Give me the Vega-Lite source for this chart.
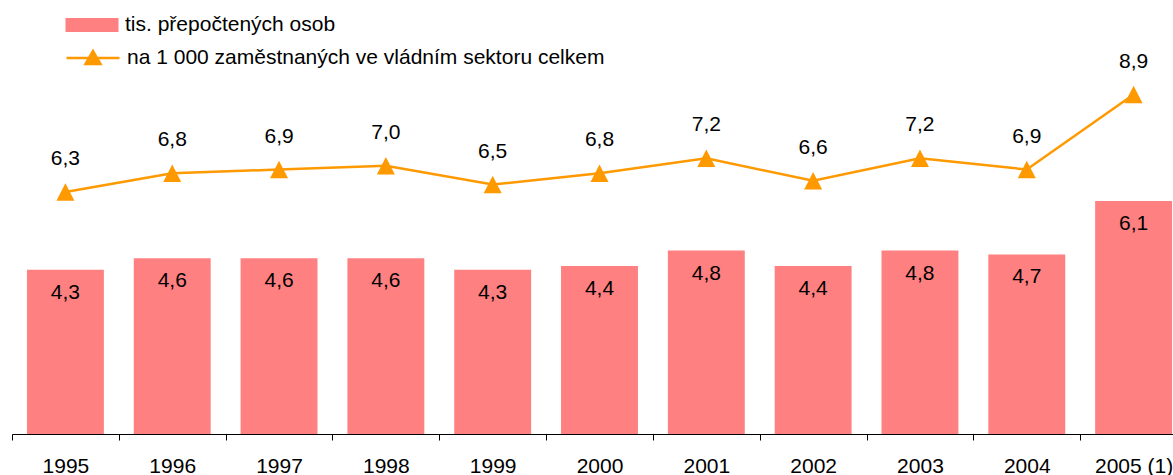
{
  "$schema": "https://vega.github.io/schema/vega-lite/v6.json",
  "autosize": "none",
  "width": 1161,
  "height": 434,
  "padding": {"left": 12, "top": 0, "right": 0, "bottom": 41},
  "background": "white",
  "config": {
    "view": {"stroke": null},
    "font": "Liberation Sans",
    "locale": {"number": {"decimal": ",", "thousands": " ", "grouping": [3], "currency": ["", " Kč"]}}
  },
  "data": {
    "values": [
      {"rok": "1995", "osob": 4.3, "podil": 6.3},
      {"rok": "1996", "osob": 4.6, "podil": 6.8},
      {"rok": "1997", "osob": 4.6, "podil": 6.9},
      {"rok": "1998", "osob": 4.6, "podil": 7.0},
      {"rok": "1999", "osob": 4.3, "podil": 6.5},
      {"rok": "2000", "osob": 4.4, "podil": 6.8},
      {"rok": "2001", "osob": 4.8, "podil": 7.2},
      {"rok": "2002", "osob": 4.4, "podil": 6.6},
      {"rok": "2003", "osob": 4.8, "podil": 7.2},
      {"rok": "2004", "osob": 4.7, "podil": 6.9},
      {"rok": "2005 (1)", "osob": 6.1, "podil": 8.9}
    ]
  },
  "encoding": {
    "x": {
      "field": "rok",
      "type": "ordinal",
      "sort": null,
      "scale": {"range": [0, 1175], "paddingInner": 0, "paddingOuter": 0},
      "axis": {
        "title": null,
        "tickBand": "extent",
        "domainColor": "#000000",
        "domainWidth": 1,
        "tickColor": "#000000",
        "tickWidth": 1,
        "tickSize": 6,
        "labelFontSize": 21,
        "labelColor": "#000000",
        "labelAngle": 0,
        "labelPadding": 15,
        "grid": false
      }
    }
  },
  "layer": [
    {
      "mark": {"type": "bar", "width": {"band": 0.72}},
      "encoding": {
        "y": {"field": "osob", "type": "quantitative", "scale": {"domain": [0, 11.36], "nice": false, "zero": true}, "axis": null},
        "fill": {
          "datum": "tis. přepočtených osob",
          "type": "nominal",
          "scale": {"range": ["#FF8080"]},
          "legend": {
            "orient": "none",
            "legendX": 69.5,
            "legendY": 14.5,
            "title": null,
            "padding": 0,
            "symbolType": "M-2.65,-0.7H2.65V0.7H-2.65Z",
            "symbolSize": 400,
            "symbolStrokeWidth": 0,
            "labelFontSize": 21,
            "labelColor": "#000000",
            "labelOffset": 22.5,
            "labelLimit": 800
          }
        }
      }
    },
    {
      "mark": {"type": "text", "baseline": "middle", "dy": 23, "fontSize": 21, "color": "#000000"},
      "encoding": {
        "y": {"field": "osob", "type": "quantitative", "scale": {"domain": [0, 11.36], "nice": false, "zero": true}, "axis": null},
        "text": {"field": "osob", "type": "quantitative", "format": ".1f"}
      }
    },
    {
      "mark": {"type": "line", "strokeWidth": 2.5},
      "encoding": {
        "y": {"field": "podil", "type": "quantitative", "scale": {"domain": [-0.152, 11.42], "nice": false, "zero": false}, "axis": null},
        "stroke": {
          "datum": "na 1 000 zaměstnaných ve vládním sektoru celkem",
          "type": "nominal",
          "scale": {"range": ["#FF9900"]},
          "legend": {
            "orient": "none",
            "legendX": 69.5,
            "legendY": 46.5,
            "title": null,
            "padding": 0,
            "symbolType": "M-2.65,0H2.65M0,-0.7L0.75,0.6H-0.75Z",
            "symbolSize": 400,
            "symbolFillColor": "#FF9900",
            "symbolStrokeWidth": 2.5,
            "labelFontSize": 21,
            "labelColor": "#000000",
            "labelOffset": 22.5,
            "labelLimit": 800
          }
        }
      }
    },
    {
      "mark": {"type": "point", "shape": "M0,-0.97L1,0.97H-1Z", "size": 324, "filled": true, "fill": "#FF9900", "strokeWidth": 0, "opacity": 1},
      "encoding": {
        "y": {"field": "podil", "type": "quantitative", "scale": {"domain": [-0.152, 11.42], "nice": false, "zero": false}, "axis": null}
      }
    },
    {
      "mark": {"type": "text", "baseline": "middle", "dy": -33, "fontSize": 21, "color": "#000000"},
      "encoding": {
        "y": {"field": "podil", "type": "quantitative", "scale": {"domain": [-0.152, 11.42], "nice": false, "zero": false}, "axis": null},
        "text": {"field": "podil", "type": "quantitative", "format": ".1f"}
      }
    }
  ],
  "resolve": {"scale": {"y": "independent"}}
}
